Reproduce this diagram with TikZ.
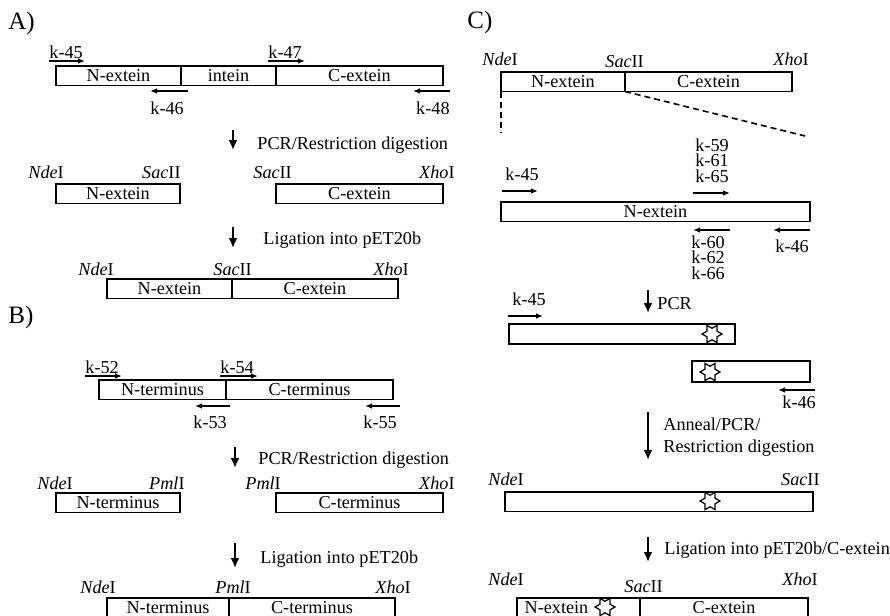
\documentclass[tikz,border=0pt]{standalone}
\usepackage{fontspec}
\setmainfont{Liberation Serif}
\usetikzlibrary{shapes.geometric,arrows.meta,positioning,calc}
\tikzstyle{seg}=[rectangle,draw,line width=0.7pt,minimum height=9.75pt,inner sep=0pt,outer sep=0pt]
\tikzstyle{site}=[inner sep=0pt]
\tikzstyle{plab}=[inner sep=0pt]
\tikzstyle{note}=[inner sep=0pt,align=left]
\tikzstyle{stack}=[inner sep=0pt,align=left,font=\fontsize{9.1}{7.75}\selectfont]
\tikzstyle{panel}=[inner sep=0pt,font=\fontsize{12.5}{14}\selectfont]
\tikzstyle{parr}=[-{Latex[length=3.5pt,width=2.8pt]},line width=0.8pt]
\tikzstyle{flow}=[-{Latex[length=5pt,width=4.5pt]},line width=1.2pt]
\tikzstyle{zoomline}=[line width=0.8pt,dash pattern=on 3pt off 2pt]
\tikzstyle{mut}=[star,star points=6,star point ratio=1.75,shape border rotate=30,draw,line width=0.6pt,inner sep=0pt,minimum size=10pt]
\newcommand{\enz}[2]{\textit{#1}#2}

\begin{document}
\begin{tikzpicture}[x=0.5pt,y=-0.5pt,font=\fontsize{9.1}{11}\selectfont]
\useasboundingbox (0,0) rectangle (890,616);

% A) intein construct
\node[panel,anchor=west] (pa) at (8,23) {A)};
\node[seg,minimum width=62.5pt,anchor=north west] (a1n) at (56,66) {N-extein};
\node[seg,minimum width=47.5pt,right=0pt of a1n] (a1i) {intein};
\node[seg,minimum width=83.5pt,right=0pt of a1i] (a1c) {C-extein};
\node[plab,anchor=base west] (p45) at (49,58) {k-45};
\node[plab,anchor=base west] (p47) at (268,58) {k-47};
\node[plab,anchor=base west] (p46) at (150,114) {k-46};
\node[plab,anchor=base east] (p48) at (450,114) {k-48};
\draw[parr] ($(p45.base west)+(0,3)$) -- ++(36,0);
\draw[parr] ($(p47.base west)+(0,3)$) -- ++(37,0);
\draw[parr] ($(p46.base west)+(38,-23)$) -- ++(-38,0);
\draw[parr] ($(p48.base east)+(0,-23)$) -- ++(-37,0);

\coordinate (fa1) at (233,130);
\draw[flow] (fa1) -- ++(0,20);
\node[note,anchor=base west] (ta1) at (257,149) {PCR/Restriction digestion};

\node[site,anchor=base west] (a2nde) at (28,178) {\enz{Nde}{I}};
\node[site,anchor=base east] (a2sac) at (181,178) {\enz{Sac}{II}};
\node[site,anchor=base west] (a2sacb) at (253,178) {\enz{Sac}{II}};
\node[site,anchor=base east] (a2xho) at (455,178) {\enz{Xho}{I}};
\node[seg,minimum width=62pt,anchor=north west] (a2n) at (56,184) {N-extein};
\node[seg,minimum width=83.5pt,anchor=north west] (a2c) at (276,184) {C-extein};

\coordinate (fa2) at (233,227);
\draw[flow] (fa2) -- ++(0,21);
\node[note,anchor=base west] (ta2) at (263,244) {Ligation into pET20b};

\node[site,anchor=base west] (a3nde) at (78,275) {\enz{Nde}{I}};
\node[site,anchor=base west] (a3sac) at (213,275) {\enz{Sac}{II}};
\node[site,anchor=base west] (a3xho) at (373,275) {\enz{Xho}{I}};
\node[seg,minimum width=62.5pt,anchor=north west] (a3n) at (107,279) {N-extein};
\node[seg,minimum width=83pt,right=0pt of a3n] (a3c) {C-extein};

% B) split protein
\node[panel,anchor=west] (pb) at (8,317) {B)};
\node[seg,minimum width=63.5pt,anchor=north west] (b1n) at (99,380) {N-terminus};
\node[seg,minimum width=83.5pt,right=0pt of b1n] (b1c) {C-terminus};
\node[plab,anchor=base west] (p52) at (85,373) {k-52};
\node[plab,anchor=base west] (p54) at (220,373) {k-54};
\node[plab,anchor=base west] (p53) at (193,428) {k-53};
\node[plab,anchor=base west] (p55) at (363,428) {k-55};
\draw[parr] ($(p52.base west)+(0,3)$) -- ++(37,0);
\draw[parr] ($(p54.base west)+(0,3)$) -- ++(38,0);
\draw[parr] ($(p53.base west)+(37,-22)$) -- ++(-35,0);
\draw[parr] ($(p55.base west)+(37,-22)$) -- ++(-35,0);

\coordinate (fb1) at (235,447);
\draw[flow] (fb1) -- ++(0,21);
\node[note,anchor=base west] (tb1) at (258,464) {PCR/Restriction digestion};

\node[site,anchor=base west] (b2nde) at (37,489) {\enz{Nde}{I}};
\node[site,anchor=base east] (b2pml) at (185,489) {\enz{Pml}{I}};
\node[site,anchor=base west] (b2pmlb) at (245,489) {\enz{Pml}{I}};
\node[site,anchor=base east] (b2xho) at (455,489) {\enz{Xho}{I}};
\node[seg,minimum width=62pt,anchor=north west] (b2n) at (56,493) {N-terminus};
\node[seg,minimum width=83.5pt,anchor=north west] (b2c) at (276,493) {C-terminus};

\coordinate (fb2) at (235,543);
\draw[flow] (fb2) -- ++(0,25);
\node[note,anchor=base west] (tb2) at (260,563) {Ligation into pET20b};

\node[site,anchor=base west] (b3nde) at (80,593) {\enz{Nde}{I}};
\node[site,anchor=base west] (b3pml) at (215,593) {\enz{Pml}{I}};
\node[site,anchor=base west] (b3xho) at (375,593) {\enz{Xho}{I}};
\node[seg,minimum width=61pt,anchor=north west] (b3n) at (107,598) {N-terminus};
\node[seg,minimum width=83pt,right=0pt of b3n] (b3c) {C-terminus};

% C) point mutants by overlap PCR
\node[panel,anchor=west] (pc) at (467,22) {C)};
\node[site,anchor=base west] (c1nde) at (482,65) {\enz{Nde}{I}};
\node[site,anchor=base west] (c1sac) at (605,67) {\enz{Sac}{II}};
\node[site,anchor=base west] (c1xho) at (773,65) {\enz{Xho}{I}};
\node[seg,minimum width=62pt,anchor=north west] (c1n) at (501,72) {N-extein};
\node[seg,minimum width=83.5pt,right=0pt of c1n] (c1c) {C-extein};
\coordinate (z1) at (501,133);
\coordinate (z2) at (805,136);
\draw[zoomline] (c1n.south west) -- (z1);
\draw[zoomline] (c1n.south east) -- (z2);

\node[seg,minimum width=154.5pt,anchor=north west] (c2n) at (501,202) {N-extein};
\node[plab,anchor=base west] (q45) at (505,180) {k-45};
\node[stack,anchor=south west] (q59) at (695,183) {k-59\\k-61\\k-65};
\node[stack,anchor=north west] (q60) at (691,235) {k-60\\k-62\\k-66};
\node[plab,anchor=base west] (q46) at (775,252) {k-46};
\draw[parr] ($(q45.base west)+(-3,11)$) -- ++(36,0);
\draw[parr] ($(q59.south west)+(-2,10)$) -- ++(37,0);
\draw[parr] ($(q60.north west)+(39,-5)$) -- ++(-37,0);
\draw[parr] ($(q46.base west)+(35,-22)$) -- ++(-37,0);

\coordinate (fc1) at (648,290);
\draw[flow] (fc1) -- ++(0,23);
\node[note,anchor=base west] (tc1) at (657,309) {PCR};

\node[plab,anchor=base west] (r45) at (512,305) {k-45};
\draw[parr] ($(r45.base west)+(-4,11)$) -- ++(35,0);
\node[seg,minimum width=113pt,minimum height=10pt,anchor=north west] (c3a) at (509,324) {};
\node[mut] (s3) at (712,334) {};
\node[seg,minimum width=59pt,minimum height=10.5pt,anchor=north west] (c4a) at (692,361) {};
\node[mut] (s4) at (710,372) {};
\node[plab,anchor=base west] (r46) at (782,408) {k-46};
\draw[parr] ($(r46.base west)+(33,-18)$) -- ++(-37,0);

\coordinate (fc2) at (648,412);
\draw[flow] (fc2) -- ++(0,48);
\node[note,anchor=north west] (tc2) at (663,417.5) {Anneal/PCR/\\Restriction digestion};

\node[site,anchor=base west] (c5nde) at (488,485) {\enz{Nde}{I}};
\node[site,anchor=base east] (c5sac) at (820,485) {\enz{Sac}{II}};
\node[seg,minimum width=154pt,anchor=north west] (c5a) at (505,492) {};
\node[mut] (s5) at (710,501) {};

\coordinate (fc3) at (648,537);
\draw[flow] (fc3) -- ++(0,25);
\node[note,anchor=base west] (tc3) at (664,554) {Ligation into pET20b/C-extein};

\node[site,anchor=base west] (c6nde) at (488,585) {\enz{Nde}{I}};
\node[site,anchor=base west] (c6sac) at (624,592) {\enz{Sac}{II}};
\node[site,anchor=base west] (c6xho) at (782,585) {\enz{Xho}{I}};
\node[seg,minimum width=61.5pt,anchor=north west] (c6n) at (517,598) {N-extein\kern22pt};
\node[seg,minimum width=84pt,right=0pt of c6n] (c6c) {C-extein};
\node[mut] (s6) at (605,607) {};
\end{tikzpicture}
\end{document}
